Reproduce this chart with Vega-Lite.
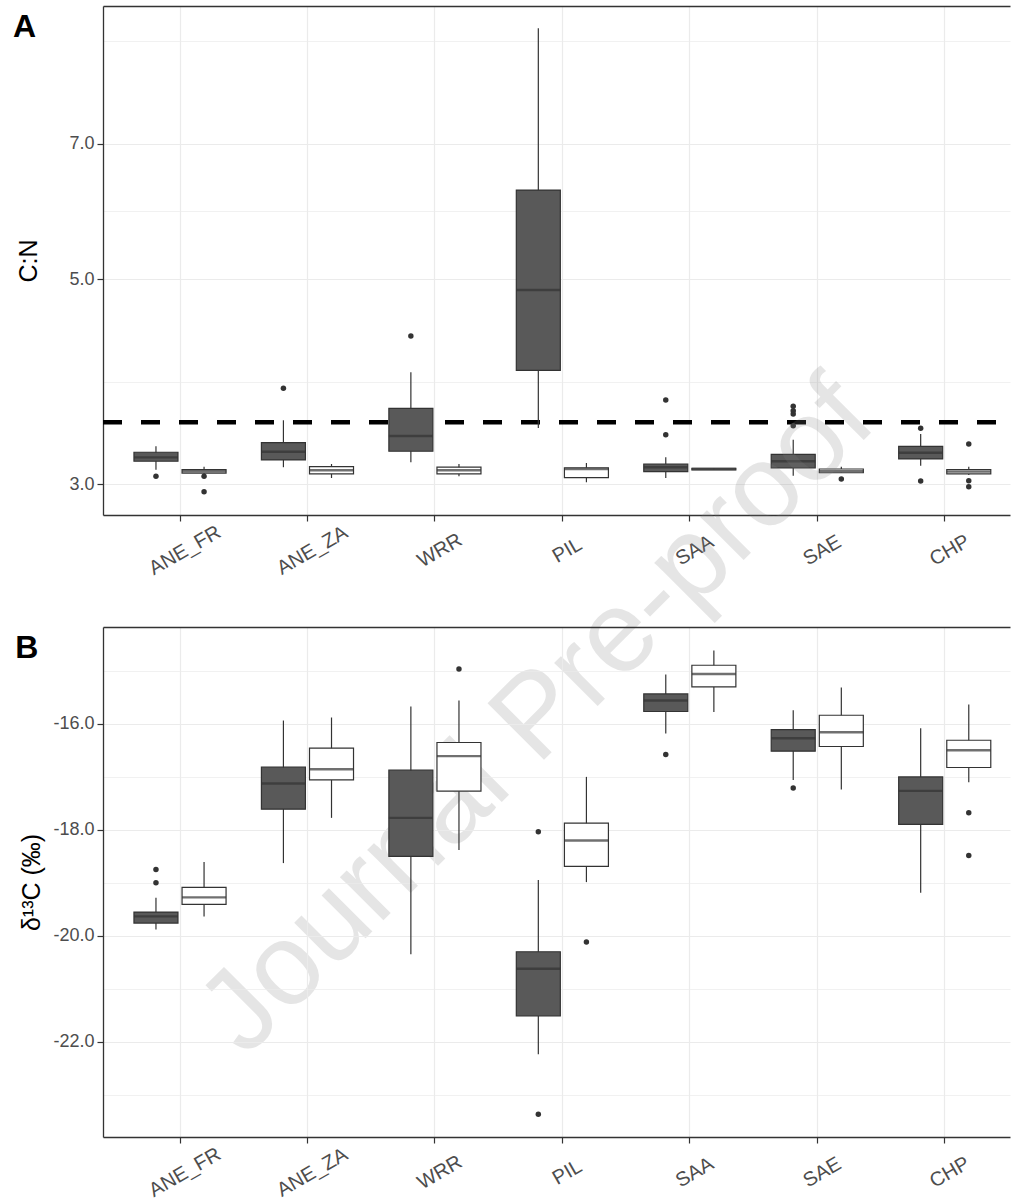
{
  "$schema": "https://vega.github.io/schema/vega-lite/v6.json",
  "usermeta": {"embedOptions": {"actions": false}},
  "background": "white",
  "padding": {"left": 12, "top": 6, "right": 0, "bottom": 0},
  "bounds": "flush",
  "spacing": 112,
  "config": {
    "view": {"stroke": null},
    "font": "Liberation Sans",
    "axis": {
      "labelFont": "Liberation Sans",
      "titleFont": "Liberation Sans",
      "labelColor": "#4D4D4D",
      "titleColor": "#000000",
      "titleFontWeight": "normal",
      "domainColor": "#333333",
      "domainWidth": 1.3,
      "tickColor": "#333333",
      "gridColor": "#EBEBEB"
    }
  },
  "datasets": {
    "cn_stats": [
      {"species": "ANE_FR", "set": "1", "lower": 3.111, "q1": 3.177, "median": 3.208, "q3": 3.249, "upper": 3.297},
      {"species": "ANE_FR", "set": "2", "lower": 3.080, "q1": 3.085, "median": 3.099, "q3": 3.111, "upper": 3.134},
      {"species": "ANE_ZA", "set": "1", "lower": 3.130, "q1": 3.187, "median": 3.253, "q3": 3.327, "upper": 3.518},
      {"species": "ANE_ZA", "set": "2", "lower": 3.047, "q1": 3.078, "median": 3.106, "q3": 3.134, "upper": 3.155},
      {"species": "WRR", "set": "1", "lower": 3.169, "q1": 3.257, "median": 3.383, "q3": 3.624, "upper": 3.964},
      {"species": "WRR", "set": "2", "lower": 3.060, "q1": 3.078, "median": 3.106, "q3": 3.130, "upper": 3.155},
      {"species": "PIL", "set": "1", "lower": 3.451, "q1": 3.984, "median": 4.865, "q3": 6.239, "upper": 9.334},
      {"species": "PIL", "set": "2", "lower": 3.015, "q1": 3.050, "median": 3.116, "q3": 3.126, "upper": 3.163},
      {"species": "SAA", "set": "1", "lower": 3.047, "q1": 3.096, "median": 3.130, "q3": 3.155, "upper": 3.208},
      {"species": "SAA", "set": "2", "lower": 3.108, "q1": 3.110, "median": 3.116, "q3": 3.122, "upper": 3.124},
      {"species": "SAE", "set": "1", "lower": 3.065, "q1": 3.124, "median": 3.177, "q3": 3.232, "upper": 3.352},
      {"species": "SAE", "set": "2", "lower": 3.085, "q1": 3.087, "median": 3.100, "q3": 3.116, "upper": 3.134},
      {"species": "CHP", "set": "1", "lower": 3.142, "q1": 3.195, "median": 3.245, "q3": 3.297, "upper": 3.400},
      {"species": "CHP", "set": "2", "lower": 3.070, "q1": 3.078, "median": 3.096, "q3": 3.111, "upper": 3.134}
    ],
    "cn_out": [
      {"species": "ANE_FR", "set": "1", "value": 3.060},
      {"species": "ANE_FR", "set": "2", "value": 3.060},
      {"species": "ANE_FR", "set": "2", "value": 2.945},
      {"species": "ANE_ZA", "set": "1", "value": 3.809},
      {"species": "WRR", "set": "1", "value": 4.339},
      {"species": "SAA", "set": "1", "value": 3.700},
      {"species": "SAA", "set": "1", "value": 3.394},
      {"species": "SAE", "set": "1", "value": 3.642},
      {"species": "SAE", "set": "1", "value": 3.603},
      {"species": "SAE", "set": "1", "value": 3.573},
      {"species": "SAE", "set": "1", "value": 3.471},
      {"species": "SAE", "set": "2", "value": 3.040},
      {"species": "CHP", "set": "1", "value": 3.449},
      {"species": "CHP", "set": "1", "value": 3.025},
      {"species": "CHP", "set": "2", "value": 3.316},
      {"species": "CHP", "set": "2", "value": 3.027},
      {"species": "CHP", "set": "2", "value": 2.982}
    ],
    "d13_stats": [
      {"species": "ANE_FR", "set": "1", "lower": -19.880, "q1": -19.760, "median": -19.635, "q3": -19.553, "upper": -19.283},
      {"species": "ANE_FR", "set": "2", "lower": -19.635, "q1": -19.408, "median": -19.276, "q3": -19.087, "upper": -18.609},
      {"species": "ANE_ZA", "set": "1", "lower": -18.628, "q1": -17.609, "median": -17.125, "q3": -16.817, "upper": -15.936},
      {"species": "ANE_ZA", "set": "2", "lower": -17.774, "q1": -17.057, "median": -16.855, "q3": -16.458, "upper": -15.879},
      {"species": "WRR", "set": "1", "lower": -20.351, "q1": -18.502, "median": -17.774, "q3": -16.874, "upper": -15.672},
      {"species": "WRR", "set": "2", "lower": -18.383, "q1": -17.270, "median": -16.609, "q3": -16.351, "upper": -15.559},
      {"species": "PIL", "set": "1", "lower": -22.238, "q1": -21.515, "median": -20.623, "q3": -20.302, "upper": -18.949},
      {"species": "PIL", "set": "2", "lower": -18.987, "q1": -18.691, "median": -18.200, "q3": -17.874, "upper": -17.000},
      {"species": "SAA", "set": "1", "lower": -16.181, "q1": -15.766, "median": -15.559, "q3": -15.434, "upper": -15.068},
      {"species": "SAA", "set": "2", "lower": -15.774, "q1": -15.302, "median": -15.057, "q3": -14.892, "upper": -14.615},
      {"species": "SAE", "set": "1", "lower": -17.057, "q1": -16.515, "median": -16.270, "q3": -16.106, "upper": -15.742},
      {"species": "SAE", "set": "2", "lower": -17.238, "q1": -16.426, "median": -16.157, "q3": -15.836, "upper": -15.313},
      {"species": "CHP", "set": "1", "lower": -19.189, "q1": -17.898, "median": -17.264, "q3": -17.000, "upper": -16.081},
      {"species": "CHP", "set": "2", "lower": -17.100, "q1": -16.823, "median": -16.496, "q3": -16.308, "upper": -15.634}
    ],
    "d13_out": [
      {"species": "ANE_FR", "set": "1", "value": -18.748},
      {"species": "ANE_FR", "set": "1", "value": -19.000},
      {"species": "WRR", "set": "2", "value": -14.962},
      {"species": "PIL", "set": "1", "value": -18.038},
      {"species": "PIL", "set": "1", "value": -23.370},
      {"species": "PIL", "set": "2", "value": -20.119},
      {"species": "SAA", "set": "1", "value": -16.577},
      {"species": "SAE", "set": "1", "value": -17.208},
      {"species": "CHP", "set": "2", "value": -17.679},
      {"species": "CHP", "set": "2", "value": -18.483}
    ]
  },
  "vconcat": [
    {
      "width": 907,
      "height": 509,
      "data": {"name": "cn_stats"},
      "resolve": {"axis": {"x": "independent"}},
      "layer": [
        {
          "data": {"values": [{"threshold": 3.5}]},
          "mark": {"type": "rule", "color": "#000000", "strokeWidth": 4.5, "strokeDash": [19, 19], "strokeDashOffset": 24},
          "encoding": {
            "y": {"field": "threshold", "type": "quantitative", "title": "C:N", "scale": {"type": "log", "domain": [2.779, 9.866], "nice": false, "zero": false}}
          }
        },
        {
          "mark": {"type": "rule", "color": "#333333", "strokeWidth": 1.2},
          "encoding": {
            "x": {"field": "species", "type": "nominal", "sort": null,
              "scale": {"type": "band", "domain": ["ANE_FR", "ANE_ZA", "WRR", "PIL", "SAA", "SAE", "CHP"], "paddingInner": 0, "paddingOuter": 0.0582, "align": 0.8956, "round": false},
              "axis": {"orient": "bottom", "title": null, "bandPosition": 0.5, "domain": true, "ticks": true, "tickSize": 6, "tickWidth": 1.2, "grid": true, "gridWidth": 1.2, "labelAngle": -30, "labelAlign": "center", "labelBaseline": "middle", "labelPadding": 29, "labelOffset": 5, "labelFontSize": 20}},
            "xOffset": {"field": "set", "type": "nominal", "scale": {"domain": ["1", "2"], "paddingInner": 0.085, "paddingOuter": 0.3675}},
            "y": {"field": "lower", "type": "quantitative", "title": "C:N",
              "scale": {"type": "log", "domain": [2.779, 9.866], "nice": false, "zero": false},
              "axis": {
                "values": [3, 3.873, 5, 5.916, 7, 9.037],
                "labelExpr": "(datum.value == 3 || datum.value == 5 || datum.value == 7) ? format(datum.value, '.1f') : ''",
                "title": "C:N", "titleFontSize": 25, "titlePadding": 27,
                "labelFontSize": 18, "labelPadding": 3, "tickSize": 6, "tickWidth": 1.2,
                "tickOpacity": {"condition": {"test": "datum.value == 3 || datum.value == 5 || datum.value == 7", "value": 1}, "value": 0},
                "grid": true,
                "gridWidth": {"condition": {"test": "datum.value == 3 || datum.value == 5 || datum.value == 7", "value": 1.2}, "value": 0.7},
                "labelOverlap": false
              }},
            "y2": {"field": "upper"}
          }
        },
        {
          "mark": {"type": "bar", "stroke": "#333333", "strokeWidth": 1.2},
          "encoding": {
            "x": {"field": "species", "type": "nominal", "sort": null, "axis": {"orient": "top", "labels": false, "ticks": false, "grid": false, "domain": true,
              "title": "A", "titleX": -90.6, "titleY": 30, "titleAngle": 0, "titleAlign": "left", "titleBaseline": "alphabetic", "titleFontSize": 32, "titleFontWeight": "bold", "titleColor": "#000000", "titlePadding": 0}},
            "xOffset": {"field": "set", "type": "nominal"},
            "y": {"field": "q1", "type": "quantitative", "title": "C:N"},
            "y2": {"field": "q3"},
            "fill": {"field": "set", "type": "nominal", "scale": {"domain": ["1", "2"], "range": ["#595959", "#FFFFFF"]}, "legend": null}
          }
        },
        {
          "mark": {"type": "tick", "color": "#333333", "thickness": 2.4, "size": 44},
          "encoding": {
            "x": {"field": "species", "type": "nominal", "sort": null, "axis": null},
            "xOffset": {"field": "set", "type": "nominal"},
            "y": {"field": "median", "type": "quantitative", "title": "C:N"}
          }
        },
        {
          "data": {"name": "cn_out"},
          "mark": {"type": "point", "filled": true, "color": "#333333", "opacity": 1, "size": 30},
          "encoding": {
            "x": {"field": "species", "type": "nominal", "sort": null, "axis": null},
            "xOffset": {"field": "set", "type": "nominal"},
            "y": {"field": "value", "type": "quantitative", "title": "C:N"}
          }
        },
        {
          "data": {"values": [{"note": "Journal Pre-proof"}]},
          "mark": {"type": "text", "angle": -45, "fontSize": 116, "font": "Liberation Sans", "color": "#808080", "opacity": 0.2, "align": "center", "baseline": "alphabetic", "clip": false},
          "encoding": {
            "x": {"datum": "PIL", "type": "nominal", "axis": null},
            "y": {"datum": 1.582, "type": "quantitative", "title": "C:N"},
            "text": {"field": "note", "type": "nominal"}
          }
        }
      ]
    },
    {
      "width": 907,
      "height": 510,
      "data": {"name": "d13_stats"},
      "resolve": {"axis": {"x": "independent"}},
      "layer": [
        {
          "mark": {"type": "rule", "color": "#333333", "strokeWidth": 1.2},
          "encoding": {
            "x": {"field": "species", "type": "nominal", "sort": null,
              "scale": {"type": "band", "domain": ["ANE_FR", "ANE_ZA", "WRR", "PIL", "SAA", "SAE", "CHP"], "paddingInner": 0, "paddingOuter": 0.0582, "align": 0.8956, "round": false},
              "axis": {"orient": "bottom", "title": null, "bandPosition": 0.5, "domain": true, "ticks": true, "tickSize": 6, "tickWidth": 1.2, "grid": true, "gridWidth": 1.2, "labelAngle": -30, "labelAlign": "center", "labelBaseline": "middle", "labelPadding": 29, "labelOffset": 5, "labelFontSize": 20}},
            "xOffset": {"field": "set", "type": "nominal", "scale": {"domain": ["1", "2"], "paddingInner": 0.085, "paddingOuter": 0.3675}},
            "y": {"field": "lower", "type": "quantitative", "title": "δ¹³C (‰)",
              "scale": {"domain": [-23.8, -14.17], "nice": false, "zero": false},
              "axis": {
                "values": [-23, -22, -21, -20, -19, -18, -17, -16, -15],
                "labelExpr": "datum.value % 2 == 0 ? (datum.value < 0 ? '-' : '') + format(abs(datum.value), '.1f') : ''",
                "title": "δ¹³C (‰)", "titleFontSize": 25, "titlePadding": 8,
                "labelFontSize": 18, "labelPadding": 3, "tickSize": 6, "tickWidth": 1.2,
                "tickOpacity": {"condition": {"test": "datum.value % 2 == 0", "value": 1}, "value": 0},
                "grid": true,
                "gridWidth": {"condition": {"test": "datum.value % 2 == 0", "value": 1.2}, "value": 0.7},
                "labelOverlap": false
              }},
            "y2": {"field": "upper"}
          }
        },
        {
          "mark": {"type": "bar", "stroke": "#333333", "strokeWidth": 1.2},
          "encoding": {
            "x": {"field": "species", "type": "nominal", "sort": null, "axis": {"orient": "top", "labels": false, "ticks": false, "grid": false, "domain": true,
              "title": "B", "titleX": -88.3, "titleY": 30, "titleAngle": 0, "titleAlign": "left", "titleBaseline": "alphabetic", "titleFontSize": 32, "titleFontWeight": "bold", "titleColor": "#000000", "titlePadding": 0}},
            "xOffset": {"field": "set", "type": "nominal"},
            "y": {"field": "q1", "type": "quantitative", "title": "δ¹³C (‰)"},
            "y2": {"field": "q3"},
            "fill": {"field": "set", "type": "nominal", "scale": {"domain": ["1", "2"], "range": ["#595959", "#FFFFFF"]}, "legend": null}
          }
        },
        {
          "mark": {"type": "tick", "color": "#333333", "thickness": 2.4, "size": 44},
          "encoding": {
            "x": {"field": "species", "type": "nominal", "sort": null, "axis": null},
            "xOffset": {"field": "set", "type": "nominal"},
            "y": {"field": "median", "type": "quantitative", "title": "δ¹³C (‰)"}
          }
        },
        {
          "data": {"name": "d13_out"},
          "mark": {"type": "point", "filled": true, "color": "#333333", "opacity": 1, "size": 30},
          "encoding": {
            "x": {"field": "species", "type": "nominal", "sort": null, "axis": null},
            "xOffset": {"field": "set", "type": "nominal"},
            "y": {"field": "value", "type": "quantitative", "title": "δ¹³C (‰)"}
          }
        }
      ]
    }
  ]
}
